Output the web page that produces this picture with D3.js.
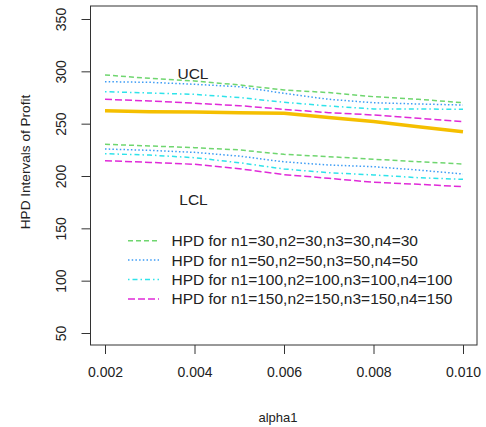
<!DOCTYPE html>
<html>
<head>
<meta charset="utf-8">
<script src="https://cdn.jsdelivr.net/npm/d3@7"></script>
<style>
  body { margin: 0; background: #fff; }
  text { font-family: Arial, "Liberation Sans", sans-serif; fill: #222; }
</style>
</head>
<body>
<svg id="chart" width="486" height="427"></svg>
<script>
// alpha1 grid
var alpha = [0.002, 0.003, 0.004, 0.005, 0.006, 0.007, 0.008, 0.009, 0.010];

// point estimate of profit (thick gold line)
var profit = [262.4, 261.4, 261.1, 260.5, 259.9, 256.0, 252.0, 247.1, 242.3];

// upper / lower HPD limits per sample size
var ucl30  = [296.5, 293.3, 290.8, 287.0, 282.2, 279.7, 275.8, 273.3, 270.0];
var lcl30  = [230.3, 228.7, 227.1, 224.9, 220.7, 218.5, 216.0, 213.7, 211.5];
var ucl50  = [290.1, 289.5, 287.6, 285.3, 279.0, 273.3, 270.0, 268.8, 267.8];
var lcl50  = [225.8, 224.5, 222.6, 219.0, 213.5, 210.5, 208.9, 205.7, 201.9];
var ucl100 = [280.6, 279.3, 278.0, 275.0, 270.4, 266.9, 264.0, 264.0, 263.7];
var lcl100 = [221.3, 220.0, 217.5, 212.7, 206.7, 203.2, 201.0, 198.4, 196.8];
var ucl150 = [273.3, 271.7, 269.5, 267.2, 263.7, 260.5, 258.3, 255.1, 252.0];
var lcl150 = [214.6, 213.0, 211.2, 207.0, 201.3, 197.8, 194.0, 192.1, 189.8];

var legendLabels = [
  "HPD for n1=30,n2=30,n3=30,n4=30",
  "HPD for n1=50,n2=50,n3=50,n4=50",
  "HPD for n1=100,n2=100,n3=100,n4=100",
  "HPD for n1=150,n2=150,n3=150,n4=150"
];

var xTicks = [0.002, 0.004, 0.006, 0.008, 0.010];
var yTicks = [50, 100, 150, 200, 250, 300, 350];

// line styles (R lty 2..5)
var styles = [
  { color: "#6fd66f", dash: "5,3" },
  { color: "#3d9cf5", dash: "1.5,2.2" },
  { color: "#2fe3ea", dash: "1.5,3,5,3" },
  { color: "#e02ad8", dash: "7,3" }
];

var series = [
  { up: ucl30,  lo: lcl30,  s: styles[0] },
  { up: ucl50,  lo: lcl50,  s: styles[1] },
  { up: ucl100, lo: lcl100, s: styles[2] },
  { up: ucl150, lo: lcl150, s: styles[3] }
];

var svg = d3.select("#chart");

// plot box
var box = { left: 90.5, right: 477, top: 6, bottom: 345 };

var x = d3.scaleLinear().domain([0.002, 0.010]).range([105, 463]);
var y = d3.scaleLinear().domain([50, 350]).range([333, 19]);

var line = d3.line()
    .x(function(d, i) { return x(alpha[i]); })
    .y(function(d) { return y(d); });

// HPD limits
series.forEach(function(d) {
  [d.up, d.lo].forEach(function(vals) {
    svg.append("path")
      .attr("d", line(vals))
      .attr("fill", "none")
      .attr("stroke", d.s.color)
      .attr("stroke-width", 1.5)
      .attr("stroke-dasharray", d.s.dash);
  });
});

// estimate
svg.append("path")
  .attr("d", line(profit))
  .attr("fill", "none")
  .attr("stroke", "#f5bf00")
  .attr("stroke-width", 3.5);

// box
svg.append("rect")
  .attr("x", box.left).attr("y", box.top)
  .attr("width", box.right - box.left)
  .attr("height", box.bottom - box.top)
  .attr("fill", "none")
  .attr("stroke", "#333")
  .attr("stroke-width", 1);

// x axis
var xAxis = svg.append("g")
  .attr("transform", "translate(0," + box.bottom + ")")
  .call(d3.axisBottom(x).tickValues(xTicks).tickSize(9).tickPadding(13)
        .tickFormat(d3.format(".3f")));
xAxis.select(".domain").remove();
xAxis.selectAll("line").attr("stroke", "#333");
xAxis.selectAll("text").style("font-size", "14px").attr("fill", "#222")
  .style("font-family", "Arial, 'Liberation Sans', sans-serif");

// y axis (labels rotated like R's default las=0)
var yAxis = svg.append("g")
  .attr("transform", "translate(" + box.left + ",0)")
  .call(d3.axisLeft(y).tickValues(yTicks).tickSize(9));
yAxis.select(".domain").remove();
yAxis.selectAll("line").attr("stroke", "#333");
yAxis.selectAll("text")
  .style("font-size", "14px").attr("fill", "#222")
  .style("font-family", "Arial, 'Liberation Sans', sans-serif")
  .attr("text-anchor", "middle")
  .attr("x", 0).attr("y", 0).attr("dy", null)
  .attr("transform", "translate(-24.5,0) rotate(-90)");

// axis titles
svg.append("text")
  .attr("x", 278).attr("y", 422)
  .attr("text-anchor", "middle")
  .style("font-size", "13px")
  .text("alpha1");

svg.append("text")
  .attr("transform", "translate(30,162) rotate(-90)")
  .attr("text-anchor", "middle")
  .style("font-size", "13.6px")
  .text("HPD Intervals of Profit");

// UCL / LCL labels
svg.append("text").attr("x", 193).attr("y", 79)
  .attr("text-anchor", "middle").style("font-size", "15.5px").text("UCL");
svg.append("text").attr("x", 193.5).attr("y", 205)
  .attr("text-anchor", "middle").style("font-size", "15.5px").text("LCL");

// legend
var legend = svg.append("g");
var rows = legend.selectAll("g")
  .data(legendLabels)
  .enter()
  .append("g")
  .attr("transform", function(d, i) { return "translate(0," + (240.7 + i * 19.4) + ")"; });

rows.append("line")
  .attr("x1", 128).attr("x2", 159)
  .attr("y1", 0).attr("y2", 0)
  .attr("stroke", function(d, i) { return styles[i].color; })
  .attr("stroke-width", 1.5)
  .attr("stroke-dasharray", function(d, i) { return styles[i].dash; });

rows.append("text")
  .attr("x", 171.5).attr("y", 5.5)
  .style("font-size", "15.5px")
  .text(function(d) { return d; });
</script>
</body>
</html>
